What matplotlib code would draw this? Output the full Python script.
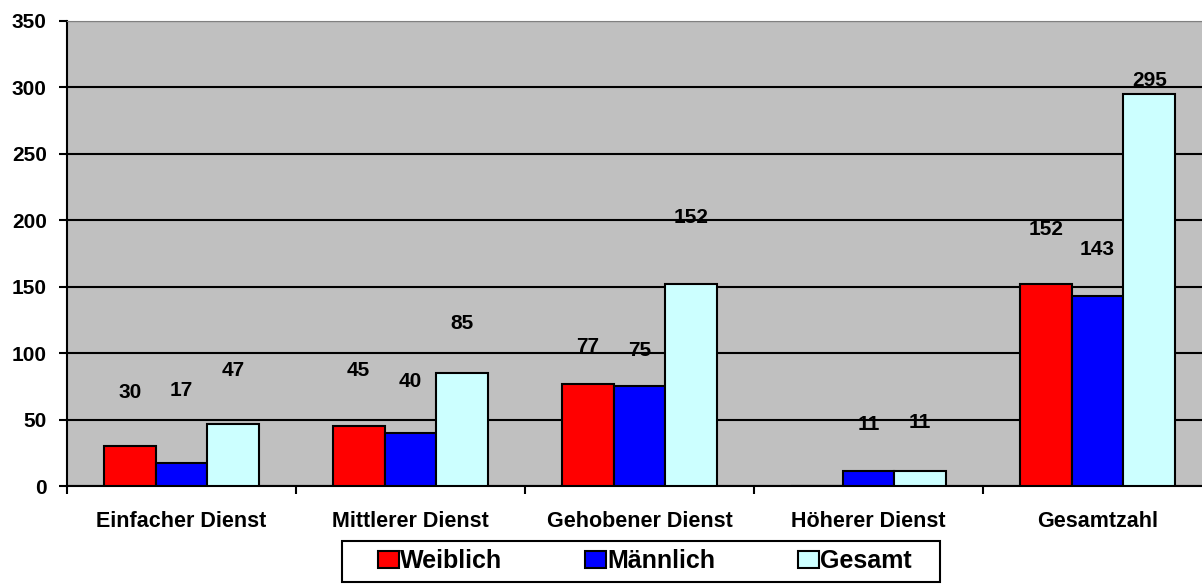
import matplotlib
matplotlib.use("Agg")
import matplotlib.pyplot as plt
from matplotlib.patches import Patch, Rectangle
import numpy as np

categories = ["Einfacher Dienst", "Mittlerer Dienst", "Gehobener Dienst", "Höherer Dienst", "Gesamtzahl"]
series_names = ["Weiblich", "Männlich", "Gesamt"]
weiblich = [30, 45, 77, 0, 152]
maennlich = [17, 40, 75, 11, 143]
gesamt = [47, 85, 152, 11, 295]
y_ticks = [0, 50, 100, 150, 200, 250, 300, 350]

# label vertical offsets (style: Excel places labels irregularly)
label_offsets = [
    [40, 42, 28, None, 41],
    [55, 39, 27, 35, 35],
    [40, 37, 50, 37, 10],
]

colors = ["#FF0000", "#0000FF", "#CCFFFF"]

plt.rcParams["font.family"] = ["Liberation Sans", "DejaVu Sans"]
plt.rcParams["font.weight"] = "bold"

W, H = 1202, 585
fig = plt.figure(figsize=(W / 100, H / 100), dpi=100)
ax = fig.add_axes([67 / W, 99 / H, 1145 / W, 465 / H])
ax.set_facecolor("#C0C0C0")

x = np.arange(len(categories))
w = 0.226
data = [weiblich, maennlich, gesamt]
for i, (vals, c) in enumerate(zip(data, colors)):
    pos = x + (i - 1) * w
    ax.bar(pos, vals, width=w, color=c, edgecolor="black", linewidth=1.5, zorder=3)
    for p, v, off in zip(pos, vals, label_offsets[i]):
        if v == 0 or off is None:
            continue
        ax.text(p, v + off, str(v), ha="center", va="center", fontsize=15, fontweight="bold", zorder=4)

ax.set_xlim(-0.5, len(categories) - 0.5)
ax.set_ylim(0, 350)
ax.set_yticks(y_ticks)
ax.set_yticklabels([str(t) for t in y_ticks], fontsize=15, fontweight="bold")
ax.yaxis.grid(True, color="black", linewidth=1.5, zorder=1)
ax.set_axisbelow(True)

ax.set_xticks(np.arange(len(categories) + 1) - 0.5)
ax.set_xticklabels([])
ax.set_xticks(x, minor=True)
ax.set_xticklabels(categories, minor=True, fontsize=15.5, fontweight="bold")
ax.tick_params(axis="x", which="minor", length=0, pad=18)
ax.tick_params(axis="x", which="major", length=6, width=1.5, direction="out")
ax.tick_params(axis="y", length=6, width=1.5, direction="out", pad=8.5)

ax.spines["right"].set_visible(False)
ax.spines["top"].set_color("#808080")
ax.spines["left"].set_linewidth(1.5)
ax.spines["bottom"].set_linewidth(1.5)

# legend frame
fig.patches.append(Rectangle((342 / W, (H - 582) / H), 598 / W, 41 / H, transform=fig.transFigure,
                             facecolor="white", edgecolor="black", linewidth=1.5, zorder=0))
handles = [Patch(facecolor=c, edgecolor="black", linewidth=1.5) for c in colors]
leg = fig.legend(handles, series_names, ncol=3, loc="center left",
                 bbox_to_anchor=(378 / W, (H - 561) / H), frameon=False,
                 prop={"size": 18, "weight": "bold"}, handlelength=0.84, handleheight=0.68,
                 handletextpad=0.05, borderaxespad=0, borderpad=0, columnspacing=3.3)

fig.savefig("out.png", dpi=100)
